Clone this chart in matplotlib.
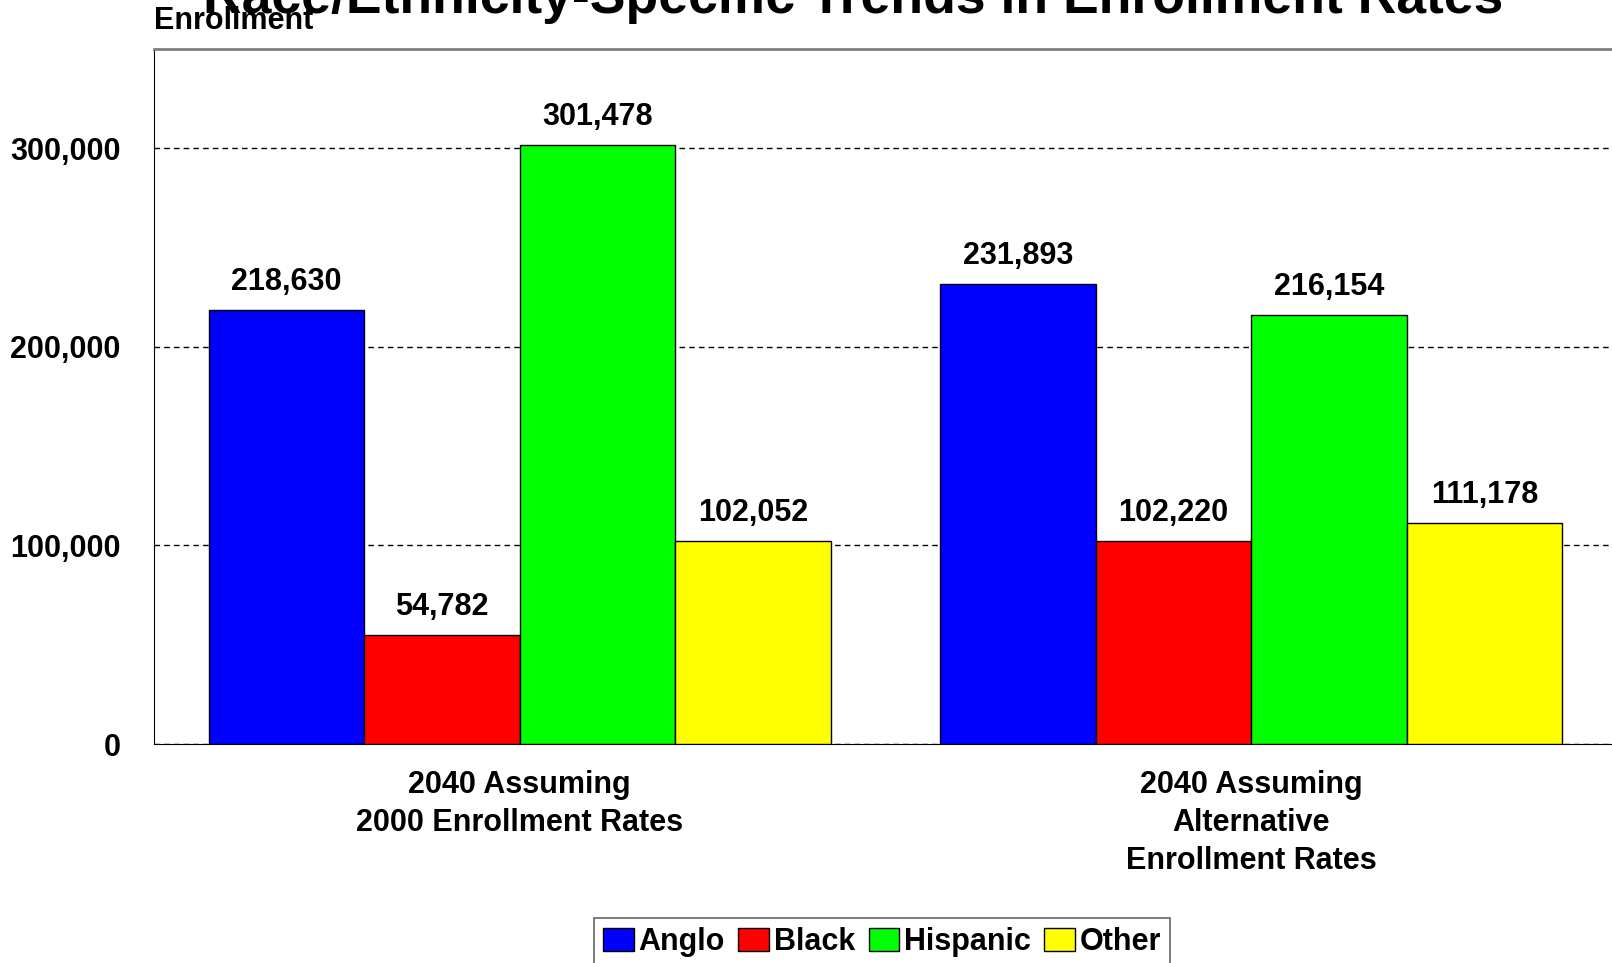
import matplotlib
matplotlib.use("Agg")
import matplotlib.pyplot as plt
import numpy as np

plt.rcParams['font.family'] = ['Liberation Sans', 'DejaVu Sans']
plt.rcParams['font.weight'] = 'bold'

# Data
groups = ["2040 Assuming\n2000 Enrollment Rates",
          "2040 Assuming\nAlternative\nEnrollment Rates"]
series = ["Anglo", "Black", "Hispanic", "Other"]
anglo = [218630, 231893]
black = [54782, 102220]
hispanic = [301478, 216154]
other = [102052, 111178]
colors = ["#0000FF", "#FF0000", "#00FF00", "#FFFF00"]

values = [anglo, black, hispanic, other]

fig = plt.figure(figsize=(16.12, 9.63), dpi=100)
ax = fig.add_axes([154 / 1612, 1 - 744 / 963, (1617 - 154) / 1612, (744 - 49) / 963])

x = np.arange(len(groups))
width = 0.2125
for i, (name, vals) in enumerate(zip(series, values)):
    pos = x + (i - 1.5) * width
    bars = ax.bar(pos, vals, width, color=colors[i], edgecolor="black",
                  linewidth=1, label=name, zorder=3)
    for b, v in zip(bars, vals):
        ax.text(b.get_x() + b.get_width() / 2, v + 6500, f"{v:,}",
                ha="center", va="bottom", fontsize=22, fontweight="bold")

ax.set_xlim(-0.5, 1.5)
ax.set_ylim(0, 350000)
ax.set_yticks([0, 100000, 200000, 300000])
ax.set_yticklabels(["0", "100,000", "200,000", "300,000"])
ax.set_xticks(x)
ax.set_xticklabels(groups, linespacing=1.33)
ax.tick_params(axis="y", length=0, pad=24, labelsize=22)
ax.tick_params(axis="x", length=0, pad=19, labelsize=22)
for lab in ax.get_xticklabels() + ax.get_yticklabels():
    lab.set_fontweight("bold")

ax.grid(axis="y", color="black", linestyle=(0, (4, 3)), linewidth=1, zorder=0)
ax.spines["top"].set_color("#808080")
ax.spines["top"].set_linewidth(2)
ax.spines["right"].set_visible(False)
ax.spines["left"].set_color("black")
ax.spines["bottom"].set_color("black")

fig.text(154 / 1612, 1 - 21 / 963, "Enrollment", ha="left", va="center",
         fontsize=22, fontweight="bold")
fig.text(853 / 1612, 1 - 13 / 963, "Race/Ethnicity-Specific Trends in Enrollment Rates",
         ha="center", va="baseline", fontsize=38.5, fontweight="bold")

leg = fig.legend(loc="upper center", bbox_to_anchor=(882 / 1612, 1 - 918 / 963),
                 ncol=4, frameon=True, fancybox=False, fontsize=22,
                 handlelength=1.0, handleheight=0.8, handletextpad=0.15,
                 columnspacing=0.45, borderpad=0.3, borderaxespad=0)
leg.get_frame().set_edgecolor("#404040")
leg.get_frame().set_linewidth(1.2)
for t in leg.get_texts():
    t.set_fontweight("bold")

fig.savefig("out.png", dpi=100)
